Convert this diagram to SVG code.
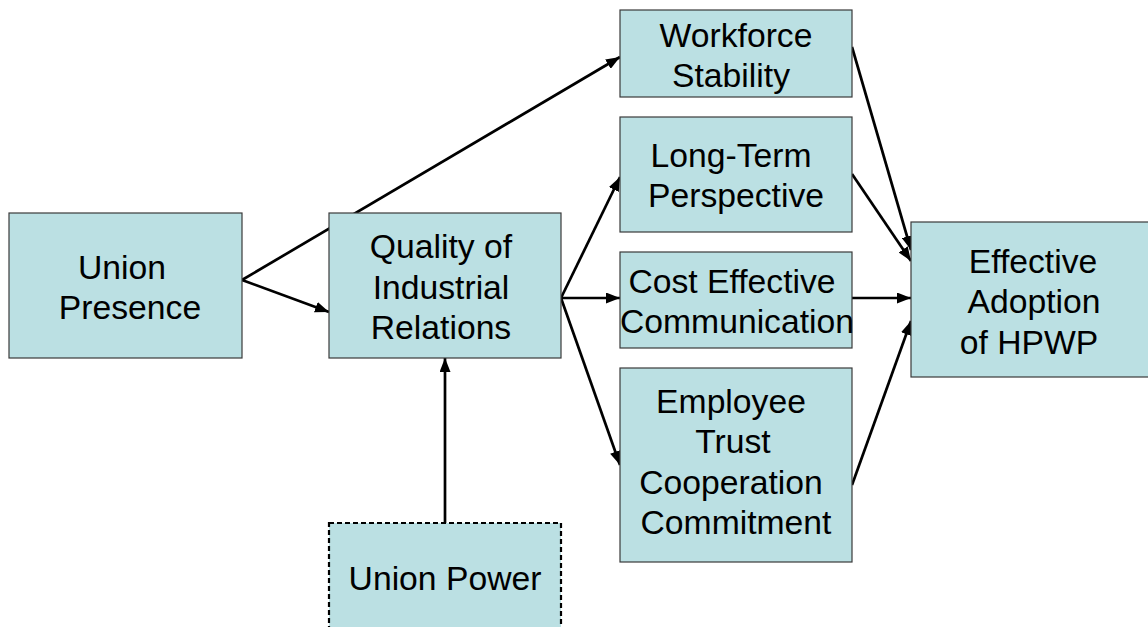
<svg xmlns="http://www.w3.org/2000/svg" width="1148" height="627" viewBox="0 0 1148 627">
<style>
.box{fill:#BBE0E3;stroke:#3a3a3a;stroke-width:1.2}
.dash{fill:#BBE0E3;stroke:#000;stroke-width:2.2;stroke-dasharray:5,3}
.t{font-family:"Liberation Sans",Arial,sans-serif;font-size:33.7px;fill:#000;text-anchor:middle}
.c{stroke:#000;stroke-width:2.7;fill:none}
</style>
<defs>
<marker id="ah" viewBox="0 0 14 11" refX="14" refY="5.5" markerWidth="14" markerHeight="11" markerUnits="userSpaceOnUse" orient="auto">
<path d="M0,0 L14,5.5 L0,11 z" fill="#000"/>
</marker>
</defs>
<g id="connectors">
<line class="c" x1="242" y1="280" x2="620" y2="57" marker-end="url(#ah)"/>
<line class="c" x1="242" y1="280" x2="329" y2="312" marker-end="url(#ah)"/>
<line class="c" x1="561" y1="298" x2="620" y2="177" marker-end="url(#ah)"/>
<line class="c" x1="561" y1="298" x2="620" y2="298" marker-end="url(#ah)"/>
<line class="c" x1="561" y1="298" x2="620" y2="465" marker-end="url(#ah)"/>
<line class="c" x1="445" y1="523" x2="445" y2="358" marker-end="url(#ah)"/>
<line class="c" x1="852" y1="47" x2="911" y2="250" marker-end="url(#ah)"/>
<line class="c" x1="852" y1="174" x2="911" y2="261" marker-end="url(#ah)"/>
<line class="c" x1="852" y1="298" x2="911" y2="298" marker-end="url(#ah)"/>
<line class="c" x1="852" y1="485" x2="911" y2="321" marker-end="url(#ah)"/>
</g>
<g id="union-presence">
<rect class="box" x="9" y="213" width="233" height="145"/>
<text class="t" x="122" y="279">Union</text>
<text class="t" x="130" y="319">Presence</text>
</g>
<g id="quality">
<rect class="box" x="329" y="213" width="232" height="145"/>
<text class="t" x="441" y="258">Quality of</text>
<text class="t" x="441" y="299">Industrial</text>
<text class="t" x="441" y="339">Relations</text>
</g>
<g id="union-power">
<rect class="dash" x="329" y="523" width="232" height="110"/>
<text class="t" x="445" y="590">Union Power</text>
</g>
<g id="workforce">
<rect class="box" x="620" y="10" width="232" height="87"/>
<text class="t" x="736" y="47">Workforce</text>
<text class="t" x="731" y="87">Stability</text>
</g>
<g id="long-term">
<rect class="box" x="620" y="117" width="232" height="115"/>
<text class="t" x="731" y="167">Long-Term</text>
<text class="t" x="736" y="207">Perspective</text>
</g>
<g id="cost-effective">
<rect class="box" x="620" y="252" width="232" height="96"/>
<text class="t" x="732" y="293">Cost Effective</text>
<text class="t" x="737" y="333">Communication</text>
</g>
<g id="employee">
<rect class="box" x="620" y="368" width="232" height="194"/>
<text class="t" x="731" y="413">Employee</text>
<text class="t" x="733" y="453">Trust</text>
<text class="t" x="731" y="494">Cooperation</text>
<text class="t" x="736" y="534">Commitment</text>
</g>
<g id="effective">
<rect class="box" x="911" y="222" width="240" height="155"/>
<text class="t" x="1033" y="273">Effective</text>
<text class="t" x="1034" y="313">Adoption</text>
<text class="t" x="1029" y="354">of HPWP</text>
</g>
</svg>
